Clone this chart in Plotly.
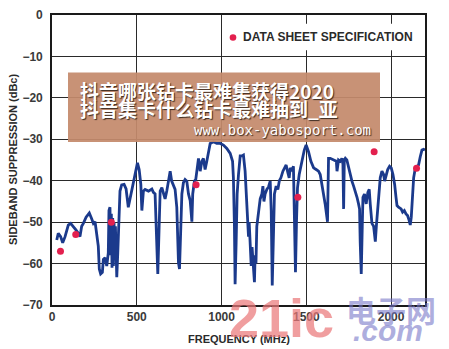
import plotly.graph_objects as go

# ---- data ----
freq_mhz = [28, 37, 51, 63, 77, 96, 110, 126, 142, 155, 165, 175, 185, 201, 220, 234, 244, 254, 264, 273,
            279, 287, 297, 303, 313, 323, 332, 336, 342, 346, 350, 354, 358, 362, 366, 370, 374, 378, 382, 388,
            396, 401, 411, 425, 437, 445, 450, 460, 472, 484, 496, 504, 514, 524, 530, 539, 549, 569, 589, 598,
            608, 618, 624, 632, 638, 648, 657, 667, 677, 691, 697, 706, 716, 726, 736, 746, 752, 757, 766, 775,
            785, 795, 805, 815, 825, 830, 840, 848, 858, 864, 874, 884, 893, 903, 913, 923, 933, 952, 972, 992,
            1011, 1031, 1051, 1065, 1070, 1076, 1080, 1086, 1092, 1100, 1110, 1120, 1129, 1139, 1145, 1153, 1159, 1163, 1169, 1175,
            1180, 1189, 1194, 1198, 1203, 1208, 1218, 1228, 1238, 1244, 1250, 1257, 1267, 1277, 1287, 1293, 1299, 1306, 1312, 1322,
            1332, 1341, 1350, 1362, 1371, 1381, 1389, 1399, 1405, 1415, 1424, 1430, 1436, 1442, 1448, 1458, 1468, 1478, 1488, 1499,
            1513, 1527, 1543, 1558, 1572, 1582, 1592, 1602, 1611, 1625, 1631, 1641, 1661, 1677, 1681, 1690, 1700, 1710, 1716, 1720,
            1724, 1730, 1739, 1749, 1759, 1769, 1779, 1789, 1799, 1808, 1814, 1818, 1824, 1830, 1834, 1843, 1853, 1863, 1871, 1877,
            1887, 1897, 1907, 1913, 1920, 1929, 1936, 1946, 1956, 1962, 1970, 1980, 1991, 2001, 2011, 2021, 2029, 2035, 2044, 2059,
            2068, 2078, 2088, 2097, 2106, 2113, 2119, 2127, 2133, 2143, 2153, 2162, 2172, 2182, 2192, 2200]
suppression_dbc = [-54.3, -52.7, -53.5, -55.0, -53.5, -50.7, -50.3, -51.0, -51.9, -52.7, -53.5, -51.0, -50.3, -48.8, -47.8, -49.2, -50.3, -49.9, -52.7, -55.8,
                   -61.3, -62.5, -62.1, -59.0, -58.6, -60.6, -57.4, -47.2, -46.4, -58.0, -48.0, -61.0, -49.0, -60.6, -50.0, -59.0, -51.0, -62.0, -63.3, -57.4,
                   -46.4, -42.5, -41.0, -40.9, -42.0, -44.4, -46.4, -44.4, -42.0, -40.1, -37.7, -35.7, -37.3, -40.9, -47.2, -42.5, -42.1, -42.5, -42.0, -42.8,
                   -43.2, -54.3, -62.5, -51.0, -42.5, -41.7, -43.2, -44.4, -42.5, -39.3, -37.7, -40.1, -41.3, -42.1, -46.4, -59.8, -61.3, -53.5, -43.2, -40.5,
                   -39.7, -40.1, -43.2, -44.8, -49.9, -43.2, -40.1, -39.7, -36.9, -34.6, -37.7, -35.3, -34.6, -37.3, -35.3, -32.6, -31.0, -30.6, -31.0, -31.0,
                   -31.4, -32.2, -33.4, -35.3, -39.3, -51.0, -65.0, -55.0, -43.2, -38.5, -34.0, -34.0, -33.8, -37.7, -43.2, -51.0, -53.5, -50.0, -55.8, -60.6,
                   -56.0, -62.1, -64.5, -58.0, -60.0, -51.0, -47.2, -44.4, -43.2, -41.3, -45.0, -43.2, -42.1, -41.5, -40.1, -47.2, -65.3, -51.0, -43.2, -41.3,
                   -42.1, -40.0, -39.3, -37.7, -36.9, -36.2, -37.7, -39.3, -36.9, -37.7, -36.5, -51.0, -62.1, -50.0, -41.7, -38.5, -36.2, -34.2, -32.6, -31.4,
                   -33.0, -35.3, -36.9, -37.3, -37.7, -38.5, -40.9, -43.2, -45.6, -49.9, -34.6, -34.6, -35.0, -35.3, -37.7, -35.0, -35.3, -34.6, -36.0, -46.8,
                   -35.0, -34.6, -35.0, -36.9, -38.5, -40.1, -41.3, -42.5, -44.0, -45.6, -46.8, -55.0, -62.5, -51.0, -44.0, -43.2, -45.6, -42.8, -42.1, -45.6,
                   -50.3, -51.0, -54.7, -51.0, -47.2, -43.2, -39.3, -37.7, -38.5, -40.1, -38.5, -37.3, -36.5, -36.9, -38.5, -40.9, -44.0, -46.0, -46.4, -46.8,
                   -47.6, -47.2, -48.0, -48.4, -49.5, -50.7, -48.8, -43.2, -39.3, -36.9, -36.5, -36.2, -34.2, -32.6, -32.4, -32.6]

spec_freq_mhz = [50, 140, 350, 850, 1450, 1900, 2150]
spec_dbc = [-57, -53, -50, -41, -44, -33, -37]

x_ticks = [0, 500, 1000, 1500, 2000]
y_ticks = [0, -10, -20, -30, -40, -50, -60, -70]

# ---- figure ----
W, H = 449, 349
ML, MR, MT, MB = 52, 24, 8, 44
PW, PH = W - ML - MR, H - MT - MB


def px_x(p):
    return (p - ML) / PW


def px_y(p):
    return 1 - (p - MT) / PH


FONT = "Liberation Sans, Arial, sans-serif"
CJK = "Noto Sans CJK SC, sans-serif"

fig = go.Figure()
fig.add_trace(go.Scatter(x=freq_mhz, y=suppression_dbc, mode="lines",
                         line=dict(color="#1b3a8c", width=2.8), showlegend=False))
fig.add_trace(go.Scatter(x=spec_freq_mhz, y=spec_dbc, mode="markers",
                         marker=dict(color="#e3204e", size=7), showlegend=False))

axis_common = dict(showgrid=True, gridcolor="#2a2a2a", gridwidth=1.3, zeroline=False,
                   showline=True, linecolor="#1a1a1a", linewidth=1.6, mirror=True,
                   ticks="", tickfont=dict(family=FONT, size=12, color="#3a3a3a", weight="bold"))

fig.update_layout(
    width=W, height=H, margin=dict(l=ML, r=MR, t=MT, b=MB),
    paper_bgcolor="white", plot_bgcolor="white",
    xaxis=dict(range=[0, 2200], tickvals=x_ticks, **axis_common),
    yaxis=dict(range=[-70, 0], tickvals=y_ticks, ticklabelstandoff=5, **axis_common),
)

shapes = []
# legend backdrop
shapes.append(dict(type="rect", xref="paper", yref="paper", layer="above",
                   x0=px_x(226), x1=px_x(423), y0=px_y(44), y1=px_y(17),
                   fillcolor="white", line=dict(width=0)))
# legend dot
shapes.append(dict(type="circle", xref="paper", yref="paper", xsizemode="pixel", ysizemode="pixel",
                   xanchor=px_x(233), yanchor=px_y(31), x0=-3.3, x1=3.3, y0=-3.3, y1=3.3,
                   fillcolor="#e3204e", line=dict(width=0), layer="above"))
# watermark banner
shapes.append(dict(type="rect", xref="paper", yref="paper", layer="above",
                   x0=px_x(68), x1=px_x(380), y0=px_y(138), y1=px_y(67),
                   fillcolor="rgba(196,138,108,0.93)", line=dict(width=0)))
fig.update_layout(shapes=shapes)

shadow = "1px 1px 1px #3a2a20"
ann = [
    dict(text="DATA SHEET SPECIFICATION", x=px_x(241), y=px_y(31), xanchor="left", yanchor="middle",
         font=dict(family=FONT, size=12, color="#2a2a2a", weight="bold")),
    dict(text="FREQUENCY (MHz)", x=0.5, y=px_y(340), xanchor="center", yanchor="middle",
         font=dict(family=FONT, size=11, color="#2a2a2a", weight="bold")),
    dict(text="SIDEBAND SUPPRESSION (dBc)", x=px_x(13), y=0.5, xanchor="center", yanchor="middle",
         textangle=-90, font=dict(family=FONT, size=11, color="#2a2a2a", weight="bold")),
    dict(text="抖音哪张钻卡最难集获得2020", x=px_x(78), y=px_y(85), xanchor="left", yanchor="middle",
         font=dict(family=CJK, size=19, color="white", weight="bold", shadow=shadow)),
    dict(text="抖音集卡什么钻卡最难抽到_亚", x=px_x(78), y=px_y(104), xanchor="left", yanchor="middle",
         font=dict(family=CJK, size=19, color="white", weight="bold", shadow=shadow)),
    dict(text="www.box-yabosport.com", x=px_x(373), y=px_y(126), xanchor="right", yanchor="middle",
         font=dict(family="DejaVu Sans Mono, monospace", size=14, color="white", shadow=shadow)),
    dict(text="21ic", x=px_x(281), y=px_y(318), xanchor="center", yanchor="middle",
         font=dict(family="Liberation Sans Narrow, Liberation Sans, Arial", size=54, color="rgba(234,120,122,0.72)", weight="bold")),
    dict(text="电子网", x=px_x(391), y=px_y(309), xanchor="center", yanchor="middle",
         font=dict(family=CJK, size=30, color="rgba(120,120,200,0.6)", weight="bold")),
    dict(text="<i>.com</i>", x=px_x(388), y=px_y(331), xanchor="center", yanchor="middle",
         font=dict(family=FONT, size=30, color="rgba(120,120,200,0.6)", weight="bold")),
]
for a in ann:
    a.update(xref="paper", yref="paper", showarrow=False)
fig.update_layout(annotations=ann)

fig.write_html("out.html")
